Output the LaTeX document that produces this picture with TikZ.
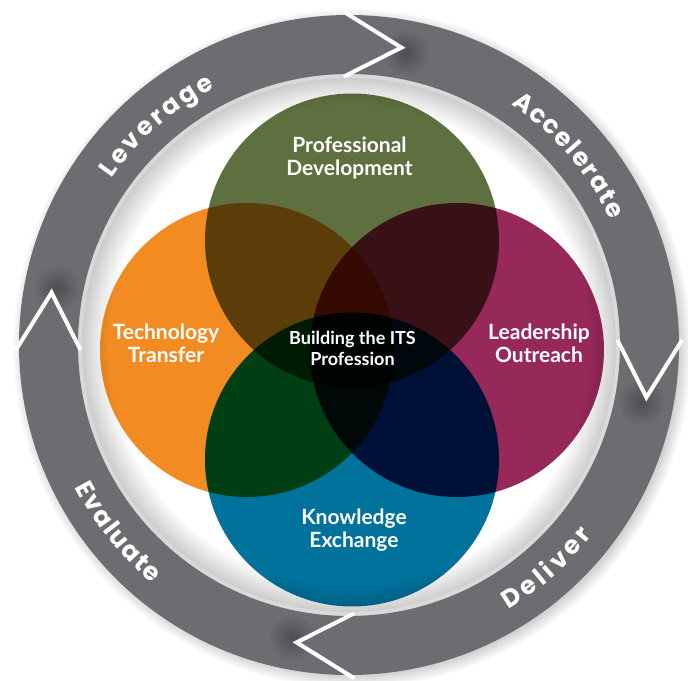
\documentclass[tikz,border=0pt]{standalone}
\usepackage{fontspec}
\setmainfont{Lato}
\newfontfamily\ringfont{Poppins}
\usepackage{tikz}
\usetikzlibrary{calc,decorations.text}

\definecolor{ringgray}{HTML}{6C6D71}
\definecolor{pdgreen}{HTML}{5F7040}
\definecolor{ttorange}{HTML}{F28B22}
\definecolor{lomagenta}{HTML}{96285A}
\definecolor{keblue}{HTML}{00729C}

\pgfdeclareradialshading{discshadow}{\pgfpoint{0bp}{0bp}}{color(0bp)=(white); color(22.5bp)=(white); color(25bp)=(black!20); color(50bp)=(black!20)}
\pgfdeclareradialshading{outershadow}{\pgfpoint{0bp}{0bp}}{color(0bp)=(white); color(24bp)=(black!18); color(25bp)=(white); color(50bp)=(white)}

\newcommand\ringtext{\ringfont\bfseries\fontsize{25}{25}\selectfont\color{white}}

\tikzset{
  venntext/.style={text=white, align=center, font=\bfseries\fontsize{21}{23}\selectfont},
  headline/.style={draw=white, line width=4, line join=miter},
  ringword/.style={decorate, decoration={text along path, text={|\ringtext|#1}, text align=fit to path}}
}

\begin{document}
\begin{tikzpicture}[x=1pt,y=1pt]
\useasboundingbox (-349,-335) rectangle (339,345);

\shade[shading=outershadow] (3,-3) circle (340);
\fill[ringgray,even odd rule] (0,0) circle (330) (0,0) circle (271);

\begin{scope}
\clip (0,0) circle (330);
\foreach \a in {90,0,-90,180}
  \shade[inner color=ringgray!72!black, outer color=ringgray] (\a-11:298) circle (24);
\end{scope}

\foreach \a in {90,0,-90,180} {
  \fill[ringgray] (\a:330) -- (\a-10:302) -- (\a:271) -- cycle;
  \draw[headline] ($(\a-10:302)!1.1!(\a:330)$) -- (\a-10:302) -- ($(\a-10:302)!1.1!(\a:271)$);
}

\shade[shading=discshadow] (0,0) circle (267);

\coordinate (venn) at (3,-5);
\begin{scope}[blend mode=multiply]
\fill[pdgreen] ($(venn)+(0,109.5)$) circle (147);
\fill[ttorange] ($(venn)+(-105,0)$) circle (147);
\fill[lomagenta] ($(venn)+(105,0)$) circle (147);
\fill[keblue] ($(venn)+(0,-109.5)$) circle (147);
\end{scope}

\node[venntext] (pd) at (0.5,187) {Professional\\Development};
\node[venntext] (tt) at (-183,2) {Technology\\Transfer};
\node[venntext] (lo) at (190,2) {Leadership\\Outreach};
\node[venntext] (ke) at (5,-185) {Knowledge\\Exchange};
\node[venntext, font=\bfseries\fontsize{18}{21}\selectfont] (its) at (3.5,-3) {Building the ITS\\Profession};

\path[ringword=Leverage] (145:290) arc[start angle=145, end angle=117.5, radius=290];
\path[ringword=Accelerate] (56:290) arc[start angle=56, end angle=25.5, radius=290];
\path[ringword=Deliver] (-59:309) arc[start angle=-59, end angle=-38, radius=309];
\path[ringword=Evaluate] (207.5:309) arc[start angle=207.5, end angle=230.5, radius=309];
\end{tikzpicture}
\end{document}
